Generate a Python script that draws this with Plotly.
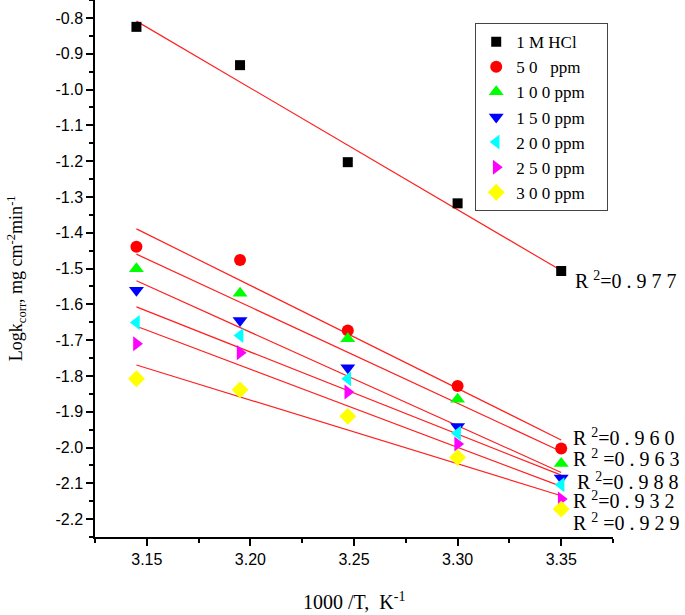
import numpy as np
import plotly.graph_objects as go

# ---- data ----
inv_T = [3.145, 3.195, 3.247, 3.300, 3.350]
series_names = ["1\u00a0M\u00a0HCl", "5\u00a00\u00a0\u00a0\u00a0ppm", "1\u00a00\u00a00\u00a0ppm",
                "1\u00a05\u00a00\u00a0ppm", "2\u00a00\u00a00\u00a0ppm", "2\u00a05\u00a00\u00a0ppm",
                "3\u00a00\u00a00\u00a0ppm"]
hcl = [-0.825, -0.932, -1.203, -1.318, -1.507]
ppm50 = [-1.439, -1.476, -1.673, -1.828, -2.003]
ppm100 = [-1.501, -1.569, -1.696, -1.865, -2.045]
ppm150 = [-1.561, -1.645, -1.777, -1.941, -2.085]
ppm200 = [-1.651, -1.687, -1.808, -1.960, -2.104]
ppm250 = [-1.710, -1.735, -1.845, -1.990, -2.144]
ppm300 = [-1.808, -1.839, -1.913, -2.028, -2.172]
r2_labels = ["0.977", "0.960", "0.963", "0.988", "0.932", "0.929"]
y_tick_vals = [-2.2, -2.1, -2.0, -1.9, -1.8, -1.7, -1.6, -1.5, -1.4, -1.3, -1.2, -1.1, -1.0, -0.9, -0.8]
y_tick_text = ["-2.2", "-2.1", "-2.0", "-1.9", "-1.8", "-1.7", "-1.6", "-1.5", "-1.4", "-1.3",
               "-1.2", "-1.1", "-1.0", "-0.9", "-0.8"]
x_tick_vals = [3.15, 3.20, 3.25, 3.30, 3.35]
x_tick_text = ["3.15", "3.20", "3.25", "3.30", "3.35"]

all_series = [hcl, ppm50, ppm100, ppm150, ppm200, ppm250, ppm300]

# ---- styles ----
colors = ["black", "#ff0000", "#00ff00", "#0000ff", "#00ffff", "#ff00ff", "#ffff00"]
symbols = ["square", "circle", "triangle-up", "triangle-down", "triangle-left", "triangle-right", "diamond"]
sizes = [10, 12, 13, 13, 13, 13, 13]
legend_pad = "\u00a0\u00a0\u00a0\u00a0\u200b"

serif = "Liberation Serif, Times New Roman, serif"
sans = "Liberation Sans, Arial, sans-serif"

fig = go.Figure()

# fitted lines
xs = np.array(inv_T)
for ys in all_series:
    m, b = np.polyfit(xs, np.array(ys), 1)
    xf = [xs.min(), xs.max()]
    fig.add_trace(go.Scatter(x=xf, y=[m * v + b for v in xf], mode="lines",
                             line=dict(color="#ff2020", width=1.2), showlegend=False,
                             hoverinfo="skip"))

for name, ys, c, s, sz in zip(series_names, all_series, colors, symbols, sizes):
    fig.add_trace(go.Scatter(x=inv_T, y=ys, mode="markers", name=name + legend_pad,
                             marker=dict(color=c, symbol=s, size=sz, line=dict(width=0))))

# R^2 annotations (positions in data coords)
r2_pos = [(3.3556, -1.532), (3.3548, -1.972), (3.3548, -2.030), (3.3568, -2.093),
          (3.3548, -2.148), (3.3548, -2.208)]
r2_gap = ["", "", "\u00a0", "", "", "\u00a0"]
annotations = []
for lab, (px, py), g in zip(r2_labels, r2_pos, r2_gap):
    spaced = "\u00a0".join(list(lab))
    annotations.append(dict(x=px, y=py, xref="x", yref="y", xanchor="left", yanchor="middle",
                            text="R\u00a0<sup>2</sup>" + g + "=" + spaced, showarrow=False,
                            font=dict(family=serif, size=20, color="black")))

annotations.append(dict(x=-0.1525, y=0.482, xref="paper", yref="paper", textangle=-90,
                        text="Logk<sub>corr</sub>, mg cm<sup>-2</sup>min<sup>-1</sup>",
                        showarrow=False, xanchor="center", yanchor="middle",
                        font=dict(family=serif, size=18, color="black")))
annotations.append(dict(x=0.5, y=-0.119, xref="paper", yref="paper",
                        text="1000\u00a0/T,\u00a0\u00a0K<sup>-1</sup>",
                        showarrow=False, xanchor="center", yanchor="middle",
                        font=dict(family=serif, size=20, color="black")))

fig.update_layout(
    width=685, height=615,
    margin=dict(l=95, r=72, t=0, b=78),
    plot_bgcolor="white", paper_bgcolor="white",
    showlegend=True,
    legend=dict(x=0.734, y=0.957, xanchor="left", yanchor="top",
                bgcolor="white", bordercolor="#444444", borderwidth=1,
                font=dict(family=serif, size=17, color="black"),
                tracegroupgap=0, itemsizing="trace"),
    annotations=annotations,
)

fig.update_xaxes(range=[3.125, 3.375], showgrid=False, zeroline=False,
                 showline=True, linecolor="black", linewidth=1.5,
                 ticks="outside", ticklen=7, tickwidth=1.5, tickcolor="black",
                 tickmode="array", tickvals=x_tick_vals, ticktext=x_tick_text,
                 tickfont=dict(family=sans, size=16, color="black"),
                 minor=dict(tick0=3.125, dtick=0.025, ticks="outside", ticklen=4,
                            tickwidth=1.5, tickcolor="black", showgrid=False))
fig.update_yaxes(range=[-2.25, -0.75], showgrid=False, zeroline=False,
                 showline=True, linecolor="black", linewidth=1.5,
                 ticks="outside", ticklen=7, tickwidth=1.5, tickcolor="black",
                 tickmode="array", tickvals=y_tick_vals, ticktext=y_tick_text,
                 tickfont=dict(family=sans, size=16, color="black"),
                 minor=dict(tick0=-0.75, dtick=0.05, ticks="outside", ticklen=4,
                            tickwidth=1.5, tickcolor="black", showgrid=False))

fig.write_html("out.html", config={"displayModeBar": False},
               post_script="document.body.style.margin='0px';")
